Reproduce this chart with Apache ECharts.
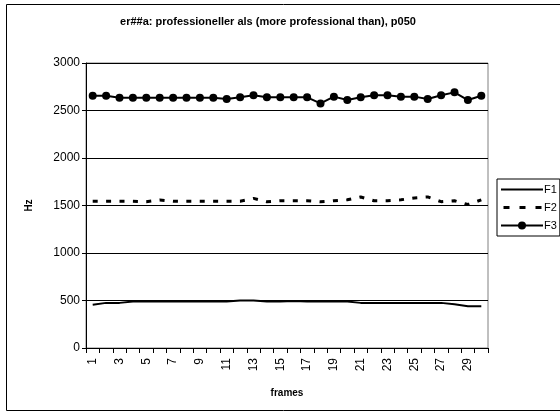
<!DOCTYPE html>
<html>
<head>
<meta charset="utf-8">
<script src="https://cdn.jsdelivr.net/npm/echarts@6/dist/echarts.min.js"></script>
<style>
html,body{margin:0;padding:0;background:#fff;}
#chart{width:560px;height:411px;}
</style>
</head>
<body>
<div id="chart"></div>
<script>
// Formant tracks (Hz) per frame
const frames = Array.from({length: 30}, (_, i) => String(i + 1));
const yTicks = [0, 500, 1000, 1500, 2000, 2500, 3000];
const f1 = [455, 475, 475, 490, 490, 490, 490, 490, 490, 490,
            490, 500, 500, 490, 490, 495, 490, 490, 490, 490,
            475, 475, 475, 475, 475, 475, 475, 460, 440, 440];
const f2 = [1545, 1545, 1545, 1545, 1540, 1558, 1545, 1545, 1545, 1545,
            1545, 1545, 1575, 1540, 1550, 1550, 1550, 1540, 1550, 1560,
            1590, 1550, 1550, 1560, 1580, 1590, 1540, 1550, 1510, 1560];
const f3 = [2656, 2656, 2635, 2635, 2635, 2635, 2635, 2635, 2635, 2635,
            2621, 2639, 2660, 2639, 2639, 2639, 2639, 2575, 2646, 2610,
            2639, 2660, 2660, 2646, 2646, 2621, 2660, 2691, 2610, 2656];

const FONT = 'Liberation Sans, Arial, sans-serif';

// Legend glyphs: solid bar and three dashes, each spanning a 42x10 box
const ICON_SOLID = 'path://M0,0L0,0M0,10L0,10M0,4L42,4L42,6L0,6Z';
const ICON_DASH = 'path://M0,0L0,0M0,10L0,10M1,3.5L7,3.5L7,6.5L1,6.5Z' +
  'M17,3.5L23,3.5L23,6.5L17,6.5ZM33,3.5L39,3.5L39,6.5L33,6.5Z';

const chart = echarts.init(document.getElementById('chart'), null, {renderer: 'canvas'});

chart.setOption({
  animation: false,
  backgroundColor: '#fff',
  title: {
    text: 'er##a: professioneller als (more professional than), p050',
    left: 263, top: 11, textAlign: 'center',
    textStyle: {fontFamily: FONT, fontSize: 11, fontWeight: 'bold', color: '#000'}
  },
  graphic: [{
    type: 'rect', left: 4, top: 2, z: -1,
    shape: {width: 554, height: 406},
    style: {fill: 'none', stroke: '#000', lineWidth: 1}
  }],
  grid: {
    left: 86, right: 72, top: 63, bottom: 63,
    show: true, borderColor: '#808080', borderWidth: 1, backgroundColor: 'transparent'
  },
  legend: {
    orient: 'vertical', left: 497, top: 179,
    itemWidth: 42, itemHeight: 10, itemGap: 7,
    padding: [5, 3, 5, 3],
    borderColor: '#000', borderWidth: 1,
    textStyle: {fontFamily: FONT, fontSize: 11, color: '#000', padding: [0, 0, 0, -4]},
    data: [{name: 'F1', icon: ICON_SOLID}, {name: 'F2', icon: ICON_DASH}, 'F3']
  },
  xAxis: {
    type: 'category', data: frames, boundaryGap: true,
    name: 'frames', nameLocation: 'middle', nameGap: 40,
    nameTextStyle: {fontFamily: FONT, fontSize: 10, fontWeight: 'bold', color: '#000'},
    axisLine: {lineStyle: {color: '#000', width: 1}},
    axisTick: {show: true, interval: 0, length: 5, lineStyle: {color: '#000'}},
    axisLabel: {interval: 1, rotate: 90, margin: 10, fontFamily: FONT, fontSize: 12, color: '#000'},
    splitLine: {show: false}
  },
  yAxis: {
    type: 'value', min: 0, max: 3000, interval: 500,
    name: 'Hz', nameLocation: 'middle', nameGap: 52, nameRotate: 90,
    nameTextStyle: {fontFamily: FONT, fontSize: 10, fontWeight: 'bold', color: '#000'},
    axisLine: {show: true, lineStyle: {color: '#000', width: 1}},
    axisTick: {show: true, length: 4, lineStyle: {color: '#000'}},
    axisLabel: {margin: 6, fontFamily: FONT, fontSize: 12, color: '#000',
      formatter: v => yTicks.includes(v) ? String(v) : ''},
    splitLine: {show: true, lineStyle: {color: '#000', width: 1}}
  },
  series: [
    {
      name: 'F1', type: 'line', data: f1, symbol: 'none',
      lineStyle: {color: '#000', width: 2},
      itemStyle: {color: '#000'}
    },
    {
      name: 'F2', type: 'line', data: f2, symbol: 'none',
      lineStyle: {color: '#000', width: 3, type: [5, 8.4]},
      itemStyle: {color: '#000'}
    },
    {
      name: 'F3', type: 'line', data: f3, symbol: 'circle', symbolSize: 8,
      lineStyle: {color: '#000', width: 2},
      itemStyle: {color: '#000'}
    }
  ]
});
</script>
</body>
</html>
